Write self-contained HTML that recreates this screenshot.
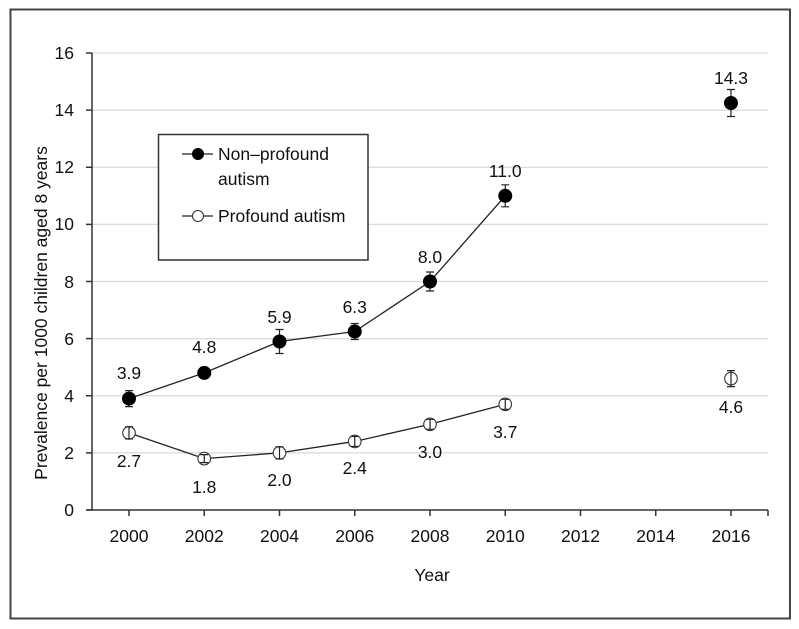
<!DOCTYPE html>
<html>
<head>
<meta charset="utf-8">
<style>
html,body{margin:0;padding:0;background:#fff;}
svg{display:block;}
text{font-family:"Liberation Sans",Arial,sans-serif;font-size:17.5px;fill:#111;}
</style>
</head>
<body>
<svg width="799" height="629" viewBox="0 0 799 629" xmlns="http://www.w3.org/2000/svg">
  <rect x="0" y="0" width="799" height="629" fill="#fff"/>
  <!-- outer frame -->
  <rect x="10.5" y="9.5" width="779.5" height="609" fill="none" stroke="#444" stroke-width="2"/>

  <!-- gridlines -->
  <g stroke="#d9d9d9" stroke-width="1.2">
    <line x1="92" y1="452.9" x2="768" y2="452.9"/>
    <line x1="92" y1="395.75" x2="768" y2="395.75"/>
    <line x1="92" y1="338.6" x2="768" y2="338.6"/>
    <line x1="92" y1="281.5" x2="768" y2="281.5"/>
    <line x1="92" y1="224.4" x2="768" y2="224.4"/>
    <line x1="92" y1="167.25" x2="768" y2="167.25"/>
    <line x1="92" y1="110.1" x2="768" y2="110.1"/>
    <line x1="92" y1="53" x2="768" y2="53"/>
  </g>

  <!-- axes -->
  <g stroke="#333" stroke-width="1.5" fill="none">
    <line x1="92" y1="53" x2="92" y2="510"/>
    <line x1="87" y1="510" x2="768" y2="510"/>
    <!-- y ticks -->
    <line x1="86" y1="510" x2="92" y2="510"/>
    <line x1="86" y1="452.9" x2="92" y2="452.9"/>
    <line x1="86" y1="395.75" x2="92" y2="395.75"/>
    <line x1="86" y1="338.6" x2="92" y2="338.6"/>
    <line x1="86" y1="281.5" x2="92" y2="281.5"/>
    <line x1="86" y1="224.4" x2="92" y2="224.4"/>
    <line x1="86" y1="167.25" x2="92" y2="167.25"/>
    <line x1="86" y1="110.1" x2="92" y2="110.1"/>
    <line x1="86" y1="53" x2="92" y2="53"/>
    <!-- x ticks -->
    <line x1="129" y1="510" x2="129" y2="516"/>
    <line x1="204.25" y1="510" x2="204.25" y2="516"/>
    <line x1="279.5" y1="510" x2="279.5" y2="516"/>
    <line x1="354.75" y1="510" x2="354.75" y2="516"/>
    <line x1="430" y1="510" x2="430" y2="516"/>
    <line x1="505.25" y1="510" x2="505.25" y2="516"/>
    <line x1="580.5" y1="510" x2="580.5" y2="516"/>
    <line x1="655.75" y1="510" x2="655.75" y2="516"/>
    <line x1="731" y1="510" x2="731" y2="516"/>
    <line x1="768" y1="510" x2="768" y2="516"/>
  </g>

  <!-- y tick labels -->
  <g text-anchor="end">
    <text x="74" y="516">0</text>
    <text x="74" y="459">2</text>
    <text x="74" y="402">4</text>
    <text x="74" y="345">6</text>
    <text x="74" y="288">8</text>
    <text x="74" y="230">10</text>
    <text x="74" y="173">12</text>
    <text x="74" y="116">14</text>
    <text x="74" y="59">16</text>
  </g>

  <!-- x tick labels -->
  <g text-anchor="middle">
    <text x="129" y="542">2000</text>
    <text x="204.25" y="542">2002</text>
    <text x="279.5" y="542">2004</text>
    <text x="354.75" y="542">2006</text>
    <text x="430" y="542">2008</text>
    <text x="505.25" y="542">2010</text>
    <text x="580.5" y="542">2012</text>
    <text x="655.75" y="542">2014</text>
    <text x="731" y="542">2016</text>
  </g>

  <!-- axis titles -->
  <text x="432" y="581" text-anchor="middle">Year</text>
  <text transform="translate(47,313) rotate(-90)" x="0" y="0" text-anchor="middle">Prevalence per 1000 children aged 8 years</text>

  <!-- profound series line -->
  <polyline fill="none" stroke="#222" stroke-width="1.3"
    points="129,432.9 204.25,458.6 279.5,452.9 354.75,441.45 430,424.3 505.25,404.3"/>
  <!-- non-profound series line -->
  <polyline fill="none" stroke="#222" stroke-width="1.3"
    points="129,398.6 204.25,372.9 279.5,341.5 354.75,331.5 430,281.5 505.25,195.8"/>

  <!-- profound markers (hollow) -->
  <g fill="#fff" stroke="#333" stroke-width="1.1">
    <circle cx="129" cy="432.9" r="6.3"/>
    <circle cx="204.25" cy="458.6" r="6.3"/>
    <circle cx="279.5" cy="452.9" r="6.3"/>
    <circle cx="354.75" cy="441.45" r="6.3"/>
    <circle cx="430" cy="424.3" r="6.3"/>
    <circle cx="505.25" cy="404.3" r="6.3"/>
    <circle cx="731" cy="378.6" r="6.3"/>
  </g>
  <!-- profound error bars -->
  <g stroke="#222" stroke-width="1.2" fill="none">
    <path d="M129,426.9V438.9M125,426.9H133M125,438.9H133"/>
    <path d="M204.25,454.6V462.6M200.25,454.6H208.25M200.25,462.6H208.25"/>
    <path d="M279.5,446.9V458.9M275.5,446.9H283.5M275.5,458.9H283.5"/>
    <path d="M354.75,436.45V446.45M350.75,436.45H358.75M350.75,446.45H358.75"/>
    <path d="M430,419.3V429.3M426,419.3H434M426,429.3H434"/>
    <path d="M505.25,399.3V409.3M501.25,399.3H509.25M501.25,409.3H509.25"/>
    <path d="M731,370.6V386.6M727,370.6H735M727,386.6H735"/>
  </g>

  <!-- non-profound error bars -->
  <g stroke="#222" stroke-width="1.2" fill="none">
    <path d="M129,390.6V406.6M125,390.6H133M125,406.6H133"/>
    <path d="M204.25,368.9V376.9M200.25,368.9H208.25M200.25,376.9H208.25"/>
    <path d="M279.5,329.5V353.5M275.5,329.5H283.5M275.5,353.5H283.5"/>
    <path d="M354.75,323.5V339.5M350.75,323.5H358.75M350.75,339.5H358.75"/>
    <path d="M430,272V291M426,272H434M426,291H434"/>
    <path d="M505.25,184.8V206.8M501.25,184.8H509.25M501.25,206.8H509.25"/>
    <path d="M731,89.5V116.5M727,89.5H735M727,116.5H735"/>
  </g>
  <!-- non-profound markers (filled) -->
  <g fill="#000">
    <circle cx="129" cy="398.6" r="7"/>
    <circle cx="204.25" cy="372.9" r="7"/>
    <circle cx="279.5" cy="341.5" r="7"/>
    <circle cx="354.75" cy="331.5" r="7"/>
    <circle cx="430" cy="281.5" r="7"/>
    <circle cx="505.25" cy="195.8" r="7"/>
    <circle cx="731" cy="103" r="7"/>
  </g>

  <!-- data labels non-profound -->
  <g text-anchor="middle">
    <text x="129" y="379">3.9</text>
    <text x="204.25" y="353">4.8</text>
    <text x="279.5" y="323">5.9</text>
    <text x="354.75" y="313">6.3</text>
    <text x="430" y="263">8.0</text>
    <text x="505.25" y="177">11.0</text>
    <text x="731" y="84">14.3</text>
  </g>
  <!-- data labels profound -->
  <g text-anchor="middle">
    <text x="129" y="467">2.7</text>
    <text x="204.25" y="493">1.8</text>
    <text x="279.5" y="486">2.0</text>
    <text x="354.75" y="474">2.4</text>
    <text x="430" y="458">3.0</text>
    <text x="505.25" y="438">3.7</text>
    <text x="731" y="413">4.6</text>
  </g>

  <!-- legend -->
  <rect x="158.5" y="134.5" width="209.5" height="125.5" fill="#fff" stroke="#333" stroke-width="1.5"/>
  <line x1="182" y1="154" x2="213" y2="154" stroke="#222" stroke-width="1.3"/>
  <circle cx="198" cy="154" r="6" fill="#000"/>
  <text x="218" y="160">Non–profound</text>
  <text x="218" y="185">autism</text>
  <line x1="182" y1="216" x2="213" y2="216" stroke="#222" stroke-width="1.3"/>
  <circle cx="198" cy="216" r="5.5" fill="#fff" stroke="#333" stroke-width="1.1"/>
  <text x="218" y="222">Profound autism</text>
</svg>
</body>
</html>
